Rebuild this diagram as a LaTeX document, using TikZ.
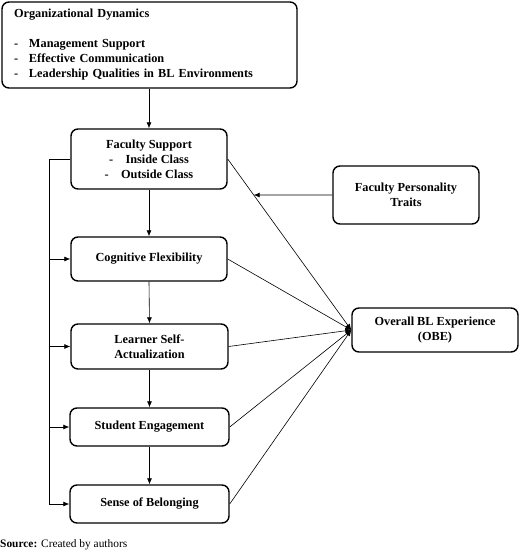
\documentclass[tikz,border=0pt]{standalone}
\usepackage{fontspec}
\setmainfont{Liberation Serif}
\usetikzlibrary{arrows.meta}
\tikzset{
box/.style={
	  draw, rounded corners=7pt, line width=1.4pt, align=center,
	    inner sep=2pt, font=\fontsize{12.3}{15}\selectfont\bfseries},
link/.style={-{Latex[length=6pt,width=5pt]}, line width=0.6pt}
}
\newcommand{\dashitem}[1]{\makebox[15pt][l]{-}#1}

\begin{document}
\begin{tikzpicture}[x=1pt, y=-1pt]
	\useasboundingbox (0,0) rectangle (520,552);
	\node[box, minimum width=295pt, minimum height=86pt, text width=271pt, align=left] (org) at (149.5,45)
	{Organizational Dynamics\\ \mbox{}\\ \dashitem{Management Support}\\ \dashitem{Effective Communication}\\ \dashitem{Leadership Qualities in BL Environments}};
	\node[box, minimum width=156pt, minimum height=60pt] (fs) at (149,159)
	{Faculty Support\\ -\quad Inside Class\\ -\quad Outside Class};
	\node[box, minimum width=156pt, minimum height=44pt] (cf) at (149,259) {Cognitive Flexibility};
	\node[box, minimum width=157pt, minimum height=45pt] (lsa) at (149.5,346.5) {Learner Self-\\Actualization};
	\node[box, minimum width=159pt, minimum height=38pt] (se) at (149.5,427) {Student Engagement};
	\node[box, minimum width=159pt, minimum height=38pt] (sb) at (149.5,504) {Sense of Belonging};
	\node[box, minimum width=146pt, minimum height=58pt] (fpt) at (406,195) {Faculty Personality\\Traits};
	\node[box, minimum width=166pt, minimum height=44pt] (obe) at (435,330) {Overall BL Experience\\(OBE)};
	\node[anchor=west, inner sep=0pt, font=\fontsize{11.4}{13}\selectfont] (src) at (0,545) {\textbf{Source:} Created by authors};

	\draw[link] (org.south -| fs.north) -- (fs.north);
	\draw[link] (fs.south) -- (cf.north);
	\draw[link] (cf.south) -- (lsa.north);
	\draw[link] (lsa.south) -- (se.north);
	\draw[link] (se.south) -- (sb.north);

	\draw[link] (fs.west) -- ++(-21,0) coordinate (bus) |- (sb.west);
	\draw[link] (bus |- cf.west) -- (cf.west);
	\draw[link] (bus |- lsa.west) -- (lsa.west);
	\draw[link] (bus |- se.west) -- (se.west);

	\foreach \src in {fs, cf, lsa, se, sb}
		\draw[link] (\src.east) -- (obe.west);
	\draw[link] (fpt.west) -- (intersection of fs.east--obe.west and fpt.west--fpt.east);
\end{tikzpicture}
\end{document}
